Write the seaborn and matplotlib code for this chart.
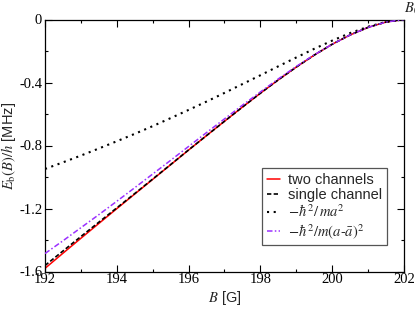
import matplotlib
matplotlib.use("Agg")
import matplotlib.pyplot as plt
import seaborn as sns
import numpy as np
import pandas as pd
from matplotlib.ticker import MultipleLocator

# ---- data ----
B = [192.0, 192.5, 193.0, 193.5, 194.0, 194.5, 195.0, 195.5, 196.0, 196.5,
     197.0, 197.5, 198.0, 198.5, 199.0, 199.5, 200.0, 200.5, 201.0, 201.5, 202.0]
two_channels = [-1.580, -1.484, -1.389, -1.295, -1.201, -1.108, -1.015, -0.922,
                -0.829, -0.737, -0.646, -0.556, -0.468, -0.383, -0.302, -0.226,
                -0.157, -0.098, -0.050, -0.016, 0.000]
single_channel = [-1.562, -1.470, -1.378, -1.287, -1.196, -1.105, -1.013, -0.921,
                  -0.828, -0.737, -0.646, -0.556, -0.468, -0.383, -0.302, -0.226,
                  -0.157, -0.098, -0.050, -0.016, 0.000]
universal = [-0.949, -0.907, -0.864, -0.819, -0.773, -0.726, -0.677, -0.626,
             -0.574, -0.521, -0.466, -0.410, -0.354, -0.297, -0.241, -0.186,
             -0.134, -0.086, -0.046, -0.015, 0.000]
corrected = [-1.486, -1.405, -1.322, -1.239, -1.154, -1.068, -0.981, -0.894,
             -0.806, -0.718, -0.631, -0.544, -0.460, -0.377, -0.298, -0.224,
             -0.157, -0.098, -0.050, -0.016, 0.000]
labels = ["two channels", "single channel",
          r"$-\hbar^2/\,ma^2$", r"$-\hbar^2/m(a\text{-}\bar{a})^2$"]
xticks = [192, 194, 196, 198, 200, 202]
xtick_labels = ["192", "194", "196", "198", "200", "202"]
yticks = [-1.6, -1.2, -0.8, -0.4, 0.0]
ytick_labels = ["-1.6", "-1.2", "-0.8", "-0.4", "0"]

sns.set_style("ticks")
plt.rcParams["font.family"] = ["Liberation Sans", "DejaVu Sans"]
plt.rcParams["mathtext.fontset"] = "stix"
plt.rcParams["axes.unicode_minus"] = False

fig = plt.figure(figsize=(4.15, 3.10), dpi=100)
ax = fig.add_axes([45/415, 1-271.5/310, 359/415, 252/310])

df = pd.DataFrame({"B": B, "two": two_channels, "single": single_channel,
                   "univ": universal, "corr": corrected})

sns.lineplot(data=df, x="B", y="two", ax=ax, color="#ff0000", lw=1.1,
             label=labels[0], zorder=2)
sns.lineplot(data=df, x="B", y="single", ax=ax, color="black", lw=1.2,
             linestyle=(0, (2.6, 1.4)), label=labels[1], zorder=3)
sns.lineplot(data=df, x="B", y="univ", ax=ax, color="black", lw=1.5,
             linestyle=(0, (1, 2.2)), label=labels[2], zorder=3)
sns.lineplot(data=df, x="B", y="corr", ax=ax, color="#9b30ff", lw=1.1,
             linestyle=(0, (3.6, 1.5, 1, 1.5)), label=labels[3], zorder=4)

ax.set_xlim(192, 202)
ax.set_ylim(-1.6, 0)
ax.set_xticks(xticks)
ax.set_xticklabels(xtick_labels)
ax.xaxis.set_minor_locator(MultipleLocator(1))
ax.set_yticks(yticks)
ax.set_yticklabels(ytick_labels)
ax.yaxis.set_minor_locator(MultipleLocator(0.2))
ax.tick_params(which="both", direction="in", top=True, right=True,
               width=0.8, colors="black")
ax.tick_params(which="major", length=5)
ax.tick_params(which="minor", length=2.5)
for lab in ax.get_xticklabels() + ax.get_yticklabels():
    lab.set_fontfamily("Liberation Serif")
    lab.set_fontsize(10.5)
ax.tick_params(axis="x", pad=1.0)
ax.tick_params(axis="y", pad=2)
for s in ax.spines.values():
    s.set_linewidth(0.9)
    s.set_color("black")

ax.set_xlabel(r"$B$ [G]", fontsize=10.5, labelpad=2)
ax.set_ylabel(r"$E_\mathrm{b}(B)/h$ [MHz]", fontsize=10.5, labelpad=1)

ax.annotate(r"$B_0$", xy=(202, 0), xycoords="data", xytext=(0, 1.5),
            textcoords="offset points", ha="left", va="bottom", fontsize=10.5,
            annotation_clip=False)

leg = ax.legend(loc="lower right", bbox_to_anchor=(0.9526, 0.105),
                borderaxespad=0, fontsize=10.5, handlelength=0.9,
                handletextpad=0.6, labelspacing=0.1, borderpad=0.3,
                fancybox=False, framealpha=1, edgecolor="#555555")
leg.get_frame().set_linewidth(0.9)

fig.savefig("out.png", dpi=100)
